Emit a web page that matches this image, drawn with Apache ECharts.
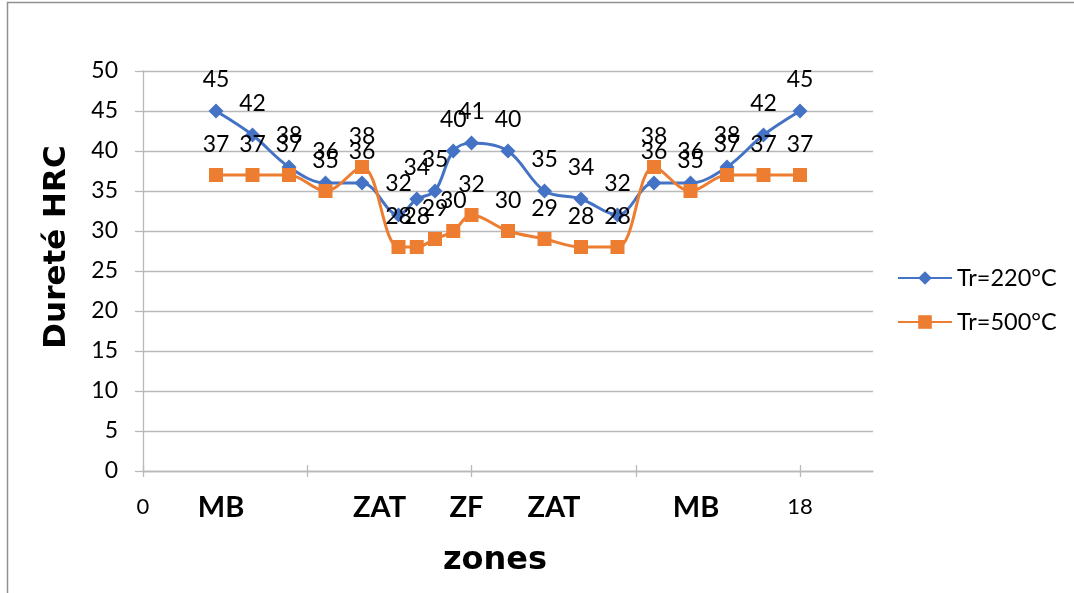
<!DOCTYPE html>
<html>
<head>
<meta charset="utf-8">
<script src="https://cdn.jsdelivr.net/npm/echarts@6/dist/echarts.min.js"></script>
<style>
html,body{margin:0;padding:0;background:#fff;}
#chart{width:1074px;height:593px;}
</style>
</head>
<body>
<div id="chart"></div>
<script>
// ---- data ----
const xPositions = [2, 3, 4, 5, 6, 7, 7.5, 8, 8.5, 9, 10, 11, 12, 13, 14, 15, 16, 17, 18];
const tr220 = [45, 42, 38, 36, 36, 32, 34, 35, 40, 41, 40, 35, 34, 32, 36, 36, 38, 42, 45];
const tr500 = [37, 37, 37, 35, 38, 28, 28, 29, 30, 32, 30, 29, 28, 28, 38, 35, 37, 37, 37];
const seriesNames = ['Tr=220°C', 'Tr=500°C'];
const xTickValues = [0, 4.5, 9, 13.5, 18];
const xLabelValues = [0, 2.14, 6.48, 8.86, 11.26, 15.15, 18];
const xLabelTexts = ['0', 'MB', 'ZAT', 'ZF', 'ZAT', 'MB', '18'];
const xLabelIsZone = [false, true, true, true, true, true, false];
const yTicks = {min: 0, max: 50, interval: 5};
const xRange = {min: 0, max: 20};

const chart = echarts.init(document.getElementById('chart'), null, {renderer: 'canvas'});
const gridColor = '#b9b9b9';
const font = 'Lato';

function pairs(ys) { return xPositions.map((x, i) => [x, ys[i]]); }

const labelStyle = {show: true, position: 'top', distance: 12, fontSize: 23, color: '#000', fontFamily: font};

const option = {
  animation: false,
  backgroundColor: '#fff',
  grid: {left: 143, right: 201, top: 71, bottom: 122, containLabel: false, outerBoundsMode: 'none'},
  legend: {
    orient: 'vertical', left: 892, top: 261, padding: 5,
    itemWidth: 54, itemHeight: 17, itemGap: 20,
    textStyle: {fontSize: 23.5, color: '#000', fontFamily: font},
    data: seriesNames
  },
  xAxis: [{
    type: 'value', min: xRange.min, max: xRange.max, position: 'bottom',
    axisLine: {show: true, onZero: false, lineStyle: {color: gridColor, width: 1.3}},
    axisTick: {show: true, length: 6, customValues: xTickValues, lineStyle: {color: gridColor, width: 1.3}},
    axisLabel: {
      customValues: xLabelValues, margin: 25,
      fontSize: 22, color: '#000', fontFamily: font,
      formatter: function (v) {
        let idx = 0, best = Infinity;
        xLabelValues.forEach((lv, i) => { const d = Math.abs(lv - v); if (d < best) { best = d; idx = i; } });
        return xLabelIsZone[idx] ? '{zone|' + xLabelTexts[idx] + '}' : xLabelTexts[idx];
      },
      rich: {
        zone: {fontSize: 29, fontWeight: 'bold', color: '#000', fontFamily: font, padding: [-3, 0, 0, 0]}
      }
    },
    splitLine: {show: false},
    name: 'zones', nameLocation: 'middle', nameGap: 74,
    nameTextStyle: {fontFamily: 'DejaVu Sans', fontWeight: 'bold', fontSize: 32, color: '#000', padding: [0, 26, 0, 0]}
  }, {
    type: 'value', min: xRange.min, max: xRange.max, position: 'bottom',
    axisLine: {show: false},
    axisTick: {show: true, inside: true, length: 6, customValues: xTickValues, lineStyle: {color: gridColor, width: 1.3}},
    axisLabel: {show: false},
    splitLine: {show: false}
  }],
  yAxis: {
    type: 'value', min: yTicks.min, max: yTicks.max, interval: yTicks.interval,
    axisLine: {show: true, onZero: false, lineStyle: {color: gridColor, width: 1.3}},
    axisTick: {show: true, length: 8, lineStyle: {color: gridColor, width: 1.3}},
    axisLabel: {fontSize: 23, color: '#000', fontFamily: font, margin: 25},
    splitLine: {show: true, lineStyle: {color: gridColor, width: 1.3}},
    name: 'Dureté HRC', nameLocation: 'middle', nameGap: 71,
    nameTextStyle: {fontFamily: 'DejaVu Sans', fontWeight: 'bold', fontSize: 31, color: '#000', padding: [0, 0, 0, 48]}
  },
  series: [{
    name: seriesNames[0], type: 'line', xAxisIndex: 0, smooth: 0.35,
    symbol: 'diamond', symbolSize: 15,
    lineStyle: {color: '#4472C4', width: 3},
    itemStyle: {color: '#4472C4'},
    label: labelStyle,
    data: pairs(tr220)
  }, {
    name: seriesNames[1], type: 'line', xAxisIndex: 0, smooth: 0.35,
    symbol: 'rect', symbolSize: 14,
    lineStyle: {color: '#ED7D31', width: 3},
    itemStyle: {color: '#ED7D31'},
    label: labelStyle,
    data: pairs(tr500)
  }],
  graphic: [{
    type: 'rect', silent: true, z: -10,
    shape: {x: 7.5, y: 2.5, width: 1200, height: 800},
    style: {fill: null, stroke: '#909090', lineWidth: 1.5}
  }]
};
chart.setOption(option);
</script>
</body>
</html>
